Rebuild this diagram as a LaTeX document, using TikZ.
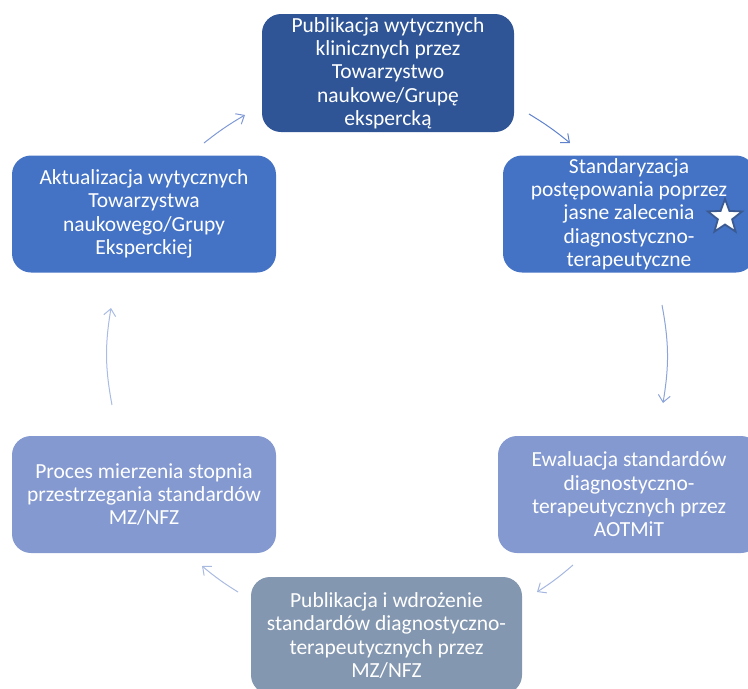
\documentclass[tikz,border=0pt]{standalone}
\usepackage{fontspec}
\setmainfont{Carlito}
\usetikzlibrary{shapes.geometric,arrows.meta}
\definecolor{cTop}{HTML}{2F5597}
\definecolor{cMid}{HTML}{4472C4}
\definecolor{cLow}{HTML}{8499D0}
\definecolor{cBot}{HTML}{8497B0}
\definecolor{aA}{HTML}{5F82CC}
\definecolor{aB}{HTML}{8CA4DA}
\definecolor{aC}{HTML}{A4B6E0}
\definecolor{aD}{HTML}{A9BAE0}
\definecolor{aE}{HTML}{A9BCE3}
\definecolor{aF}{HTML}{7F99D6}
\definecolor{starEdge}{HTML}{3B5A92}
\tikzset{
  box/.style={rounded corners=19pt, minimum height=117pt, inner sep=0pt,
    align=center, text=white, font=\fontsize{21.5}{23.3}\selectfont},
  cyc/.style={line width=1pt, -{Straight Barb[length=7pt,width=12pt]}, bend left=#1},
}
\begin{document}
\begin{tikzpicture}[x=1pt,y=-1pt]
\useasboundingbox (0,0) rectangle (748,689);
\clip (0,0) rectangle (748,689);
\node[box, fill=cTop, minimum width=252pt, minimum height=118pt] (top) at (388,73)
  {Publikacja wytycznych\\klinicznych przez\\Towarzystwo\\naukowe/Grupę\\ekspercką};
\node[box, fill=cMid, minimum width=252pt] (ru) at (629,214)
  {Standaryzacja\\postępowania poprzez\\jasne zalecenia\\diagnostyczno-\\terapeutyczne};
\node[box, fill=cMid, minimum width=264pt] (lu) at (144,214)
  {Aktualizacja wytycznych\\Towarzystwa\\naukowego/Grupy\\Eksperckiej};
\node[box, fill=cLow, minimum width=262pt] (rl) at (629,494.5)
  {Ewaluacja standardów\\diagnostyczno-\\terapeutycznych przez\\AOTMiT};
\node[box, fill=cLow, minimum width=264pt] (ll) at (144,494.5)
  {Proces mierzenia stopnia\\przestrzegania standardów\\MZ/NFZ};
\node[box, fill=cBot, minimum width=271pt] (bot) at (386.5,635.5)
  {Publikacja i wdrożenie\\standardów diagnostyczno-\\terapeutycznych przez\\MZ/NFZ};
\node[star, star points=5, star point ratio=2.4, minimum size=36pt, inner sep=0pt,
  fill=white, draw=starEdge, line width=1.8pt] (st) at (725,217) {};
% connector end points
\coordinate (a1s) at (529,114); \coordinate (a1e) at (570,143);
\coordinate (a2s) at (662,305); \coordinate (a2e) at (663,403);
\coordinate (a3s) at (573,565); \coordinate (a3e) at (537,592);
\coordinate (a4s) at (238,592); \coordinate (a4e) at (202,566);
\coordinate (a5s) at (112,405); \coordinate (a5e) at (111,308);
\coordinate (a6s) at (204,143); \coordinate (a6e) at (245,115);
\draw[cyc=4, aA] (a1s) to (a1e);
\draw[cyc=10, aB] (a2s) to (a2e);
\draw[cyc=4, aC] (a3s) to (a3e);
\draw[cyc=4, aD] (a4s) to (a4e);
\draw[cyc=10, aE] (a5s) to (a5e);
\draw[cyc=4, aF] (a6s) to (a6e);
\end{tikzpicture}
\end{document}
